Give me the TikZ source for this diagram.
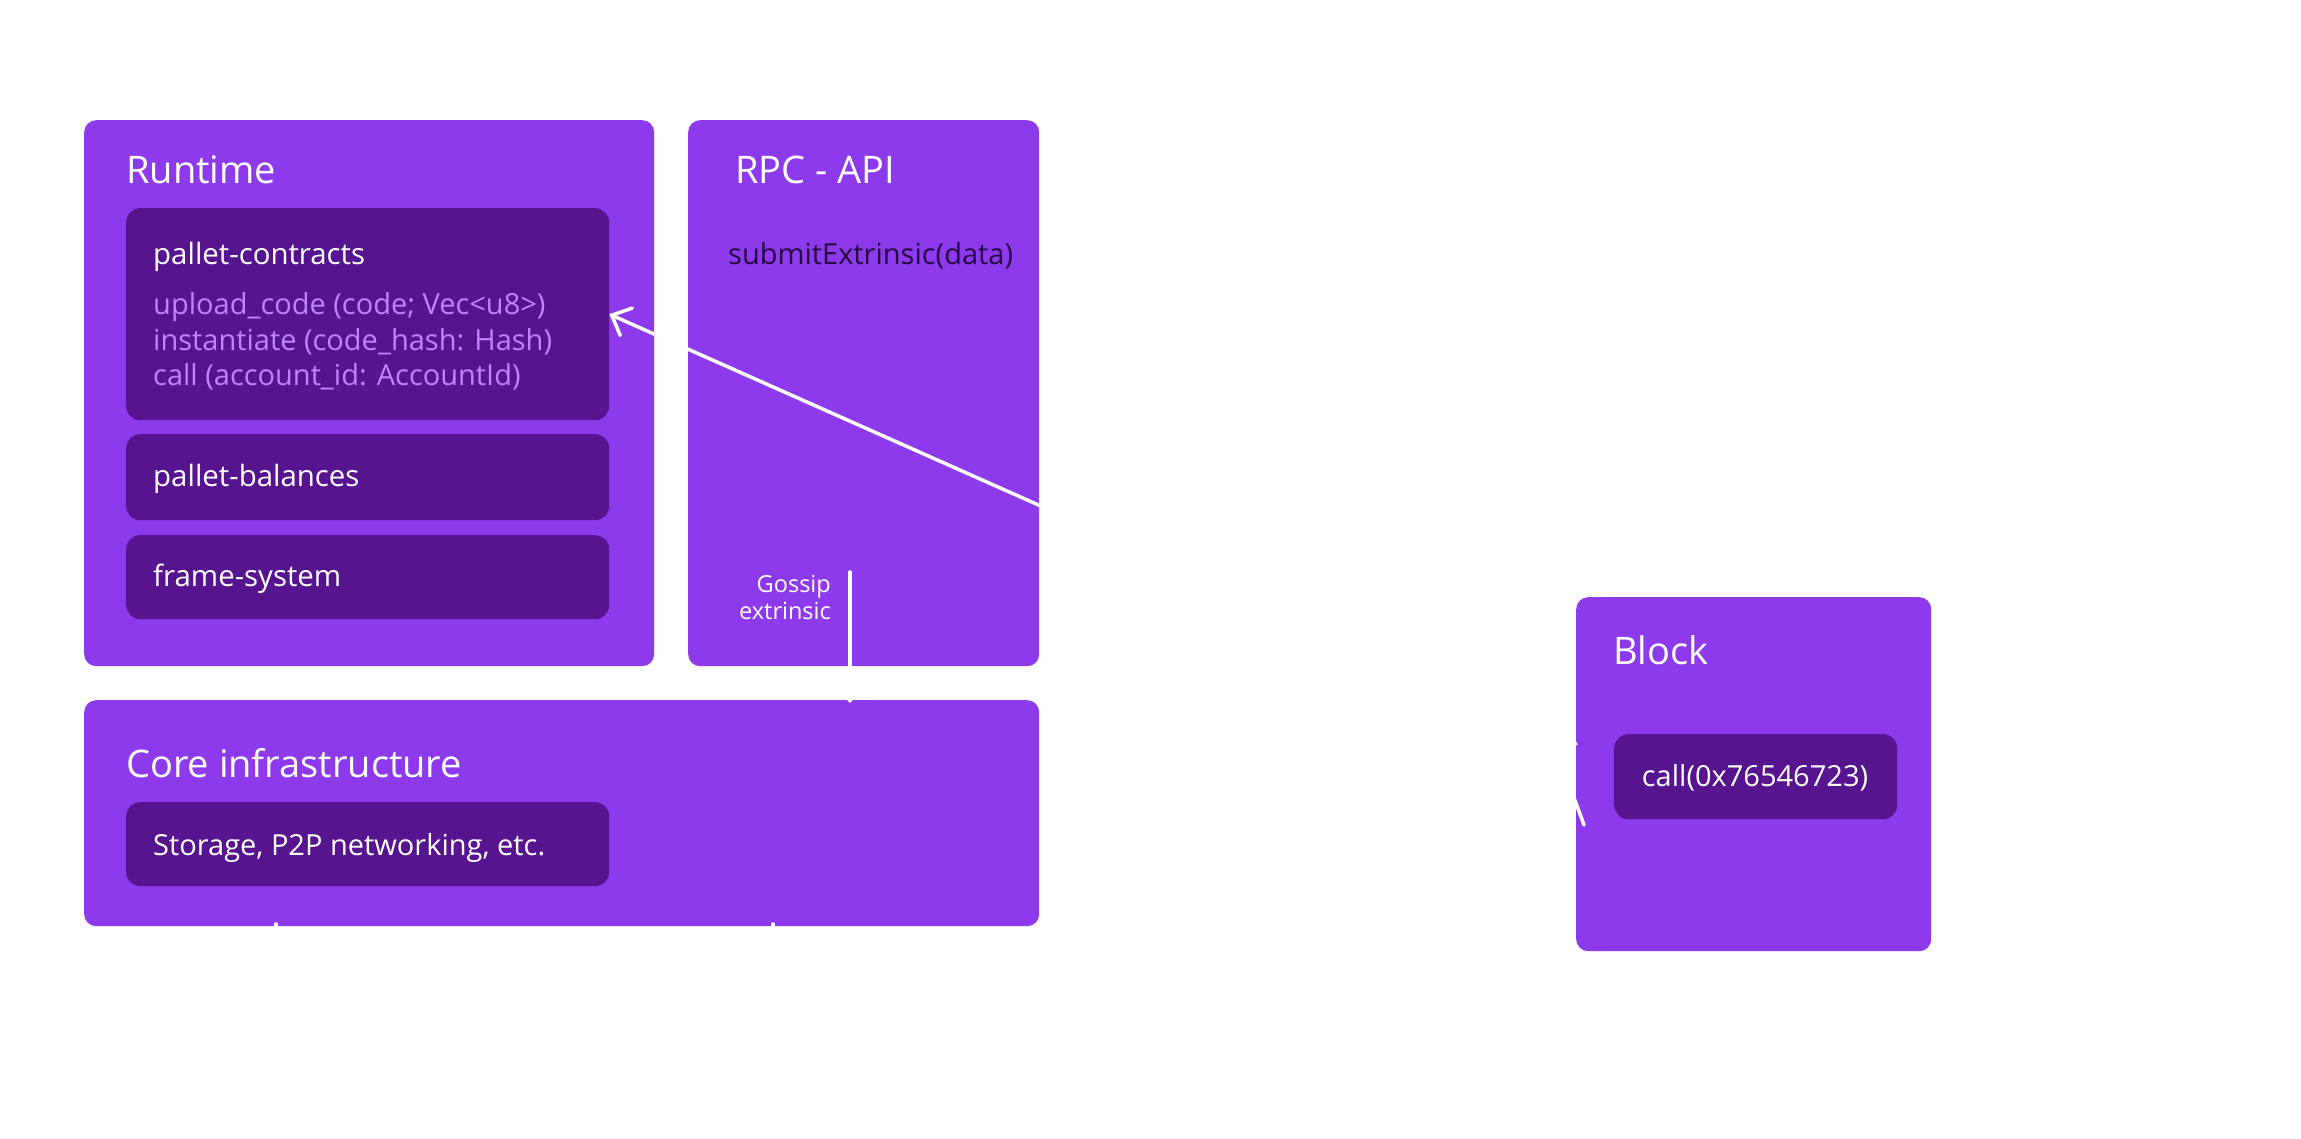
\documentclass[tikz,border=0pt]{standalone}
\usepackage{fontspec}
\setmainfont{Open Sans}
\usetikzlibrary{arrows.meta}
\definecolor{mainpurple}{RGB}{140,58,235}
\definecolor{darkpurple}{RGB}{86,20,143}
\definecolor{lighttext}{RGB}{192,132,252}
\definecolor{darktext}{RGB}{38,8,66}
\tikzset{
  outerbox/.style={fill=mainpurple, draw=none, rounded corners=12pt, anchor=north west, inner sep=0pt},
  innerbox/.style={fill=darkpurple, draw=none, rounded corners=14pt, anchor=north west, inner sep=0pt},
  titletext/.style={text=white, anchor=base west, inner sep=0pt, font=\fontsize{38}{46}\selectfont},
  subtext/.style={text=white, anchor=base west, inner sep=0pt, font=\fontsize{29.4}{35}\selectfont},
  fntext/.style={text=lighttext, anchor=base west, inner sep=0pt, font=\fontsize{29}{35}\selectfont},
  smalltext/.style={text=white, anchor=base east, inner sep=0pt, font=\fontsize{23.5}{27}\selectfont},
  wire/.style={draw=white, line width=3.5pt, line cap=round},
  barb/.style={-{Straight Barb[length=16pt,width=30pt,line cap=round]}}
}
\begin{document}
\begin{tikzpicture}[x=1pt,y=-1pt]
\useasboundingbox (0,0) rectangle (2301,1139);
\fill[white] (0,0) rectangle (2301,1139);

% outer boxes
\node[outerbox, minimum width=570pt, minimum height=546pt] (runtime) at (84,120) {};
\node[outerbox, minimum width=351pt, minimum height=546pt] (rpc) at (688,120) {};
\node[outerbox, minimum width=955pt, minimum height=226pt] (core) at (84,700) {};
\node[outerbox, minimum width=355pt, minimum height=354pt] (block) at (1576,597) {};

% inner boxes
\node[innerbox, minimum width=483pt, minimum height=212pt] (contracts) at (126,208) {};
\node[innerbox, minimum width=483pt, minimum height=86pt] (balances) at (126,434) {};
\node[innerbox, minimum width=483pt, minimum height=84pt] (system) at (126,535) {};
\node[innerbox, minimum width=483pt, minimum height=84pt] (storage) at (126,802) {};
\node[innerbox, minimum width=283pt, minimum height=85pt] (callbox) at (1614,734) {};

% texts
\node[titletext] (runtimeT) at (126,184) {Runtime};
\node[titletext] (rpcT) at (735,184) {RPC - API};
\node[titletext] (coreT) at (126,777) {Core infrastructure};
\node[titletext] (blockT) at (1613,664) {Block};

\node[subtext] (contractsT) at (153,265) {pallet-contracts};
\node[fntext] (up1) at (153,315) {upload\_code (code; Vec<u8>)};
\node[fntext] (up2) at (153,350) {instantiate (code\_hash: Hash)};
\node[fntext] (up3) at (153,385) {call (account\_id: AccountId)};
\node[subtext] (balancesT) at (153,486) {pallet-balances};
\node[subtext] (systemT) at (153,586) {frame-system};
\node[subtext, font=\fontsize{29}{35}\selectfont] (storageT) at (153,855) {Storage, P2P networking, etc.};
\node[subtext, text=darktext, font=\fontsize{29}{35}\selectfont] (submitT) at (728,265) {submitExtrinsic(data)};
\node[subtext, anchor=base, font=\fontsize{29}{35}\selectfont] (callT) at (1755,786) {call(0x76546723)};

\node[smalltext] (goss1) at (831,592) {Gossip};
\node[smalltext] (goss2) at (831,619) {extrinsic};

% connectors
\coordinate (blockin) at (1576,744);
\draw[wire, barb] (blockin) -- (contracts.east);

\coordinate (gossTop) at (850,572);
\coordinate (gossEnd) at (850,703);
\draw[wire, barb] (gossTop) -- (gossEnd);

\coordinate (stubA) at (276,924);
\coordinate (stubAend) at (276,990);
\coordinate (stubB) at (773,924);
\coordinate (stubBend) at (773,990);
\draw[wire] (stubA) -- (stubAend);
\draw[wire] (stubB) -- (stubBend);

\coordinate (bmarkA) at (1566,776);
\coordinate (bmarkB) at (1584,825);
\draw[wire] (bmarkA) -- (bmarkB);
\end{tikzpicture}
\end{document}
